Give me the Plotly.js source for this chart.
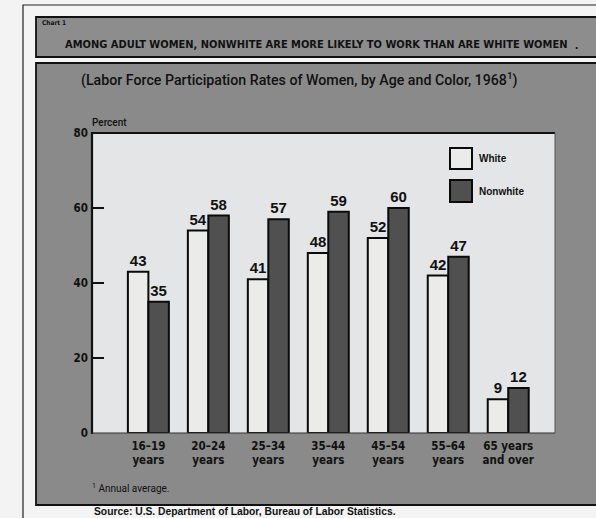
<!DOCTYPE html>
<html>
<head>
<meta charset="utf-8">
<script src="https://cdn.plot.ly/plotly-3.0.1.min.js"></script>
<style>html,body{margin:0;padding:0;background:#f3f3f3;}#chart{width:596px;height:518px;}</style>
</head>
<body>
<div id="chart"></div>
<script>
// ---- data ----
var ageGroups = ["16–19", "20–24", "25–34", "35–44", "45–54", "55–64", "65+"];
var ageTickText = ["16–19<br>years", "20–24<br>years", "25–34<br>years", "35–44<br>years", "45–54<br>years", "55–64<br>years", "65 years<br>and over"];
var whiteRates = [43, 54, 41, 48, 52, 42, 9];
var nonwhiteRates = [35, 58, 57, 59, 60, 47, 12];
var seriesNames = ["White", "Nonwhite"];
var yTicks = [0, 20, 40, 60, 80];
var chartLabel = "Chart 1";
var chartTitle = "AMONG ADULT WOMEN, NONWHITE ARE MORE LIKELY TO WORK THAN ARE WHITE WOMEN";
var chartSubtitle = "(Labor Force Participation Rates of Women, by Age and Color, 1968<sup>1</sup>)";
var yAxisLabel = "Percent";
var footnote = "<sup>1</sup> Annual average.";
var sourceNote = "Source: U.S. Department of Labor, Bureau of Labor Statistics.";

// ---- layout helpers (pixel -> paper fraction) ----
var L = 92, T = 133, W = 463, H = 300;
function px(x) { return (x - L) / W; }
function py(y) { return (T + H - y) / H; }
function rect(x0, y0, x1, y1, fill, lw, lc, layer) {
  return {type: 'rect', xref: 'paper', yref: 'paper', x0: px(x0), x1: px(x1), y0: py(y1), y1: py(y0),
    fillcolor: fill, line: {width: lw, color: lc || '#000'}, layer: layer || 'below'};
}
function line(x0, y0, x1, y1, lw, lc) {
  return {type: 'line', xref: 'paper', yref: 'paper', x0: px(x0), x1: px(x1), y0: py(y0), y1: py(y1),
    line: {width: lw, color: lc}, layer: 'above'};
}
function note(text, x, y, size, weight, anchor, family) {
  return {text: text, xref: 'paper', yref: 'paper', x: px(x), y: py(y), showarrow: false,
    xanchor: anchor || 'left', yanchor: 'middle',
    font: {size: size, color: '#111', weight: weight || 'normal', family: family || 'Liberation Sans, Arial, sans-serif'}};
}

var condensed = 'Liberation Sans Narrow, DejaVu Sans Condensed, Roboto Condensed, sans-serif';
var labelFont = {size: 15, color: '#111', weight: 'bold', family: 'Liberation Sans, Arial, sans-serif'};

var traces = [
  {type: 'bar', name: seriesNames[0], x: ageGroups, y: whiteRates, text: whiteRates.map(String),
   textposition: 'outside', cliponaxis: false, textfont: labelFont,
   marker: {color: '#ebebea', line: {color: '#0a0a0a', width: 2}}, hoverinfo: 'none'},
  {type: 'bar', name: seriesNames[1], x: ageGroups, y: nonwhiteRates, text: nonwhiteRates.map(String),
   textposition: 'outside', cliponaxis: false, textfont: labelFont,
   marker: {color: '#505050', line: {color: '#0a0a0a', width: 2}}, hoverinfo: 'none'}
];

var shapes = [
  rect(23, 5, 640, 560, '#f4f4f4', 1.2, '#222'),
  rect(36, 17, 640, 57, '#8d8d8d', 1.8, '#111'),
  rect(36, 63, 640, 505, '#8a8a8a', 1.8, '#111'),
  rect(92, 133, 555, 433, '#e3e5e6', 0, '#e3e5e6'),
  line(92, 133, 555, 133, 2.2, '#111'),
  line(92, 132, 92, 434, 2.2, '#111'),
  line(555, 133, 555, 433, 1, '#555'),
  line(92, 433, 555, 433, 1.2, '#333'),
  rect(450, 148, 472, 169, '#ebebea', 2, '#0a0a0a', 'above'),
  rect(450, 180, 472, 202, '#505050', 2, '#0a0a0a', 'above')
];

var annotations = [
  note(chartLabel, 40, 23, 6.5, 'bold', 'left', condensed),
  note(chartTitle, 316, 44, 11, 'bold', 'center', condensed),
  note('.', 576, 45, 12, 'bold', 'center'),
  note(chartSubtitle, 299, 79, 14.2, 500, 'center', 'Roboto, Liberation Sans, sans-serif'),
  note(yAxisLabel, 90, 123, 10, 500, 'left', 'Roboto, Liberation Sans, sans-serif'),
  note(seriesNames[0], 477, 158, 10, 'bold', 'left'),
  note(seriesNames[1], 477, 191, 10, 'bold', 'left'),
  note(footnote, 90, 488, 10, 'normal', 'left', 'Roboto, Liberation Sans, sans-serif'),
  note(sourceNote, 92, 512, 10.3, 'bold', 'left')
];

var layout = {
  width: 596, height: 518, autosize: false,
  margin: {l: L, r: 596 - L - W, t: T, b: 518 - T - H, pad: 0},
  paper_bgcolor: '#f3f3f3', plot_bgcolor: 'rgba(0,0,0,0)',
  barmode: 'group', bargap: 0.317, bargroupgap: 0,
  showlegend: false,
  xaxis: {type: 'category', range: [-0.94, 6.78], tickvals: ageGroups, ticktext: ageTickText,
    showgrid: false, zeroline: false, showline: false, ticks: '',
    tickfont: {size: 11.5, color: '#111', weight: 'bold', family: condensed}, ticklabelstandoff: 4},
  yaxis: {range: [0, 80], tickvals: yTicks, ticks: 'inside', ticklen: 12, tickwidth: 2, tickcolor: '#111',
    showgrid: false, zeroline: false, showline: false,
    tickfont: {size: 11.5, color: '#111', weight: 'bold', family: condensed}, ticklabelstandoff: 3},
  shapes: shapes, annotations: annotations
};

Plotly.newPlot('chart', traces, layout, {displayModeBar: false, staticPlot: true});
</script>
</body>
</html>
